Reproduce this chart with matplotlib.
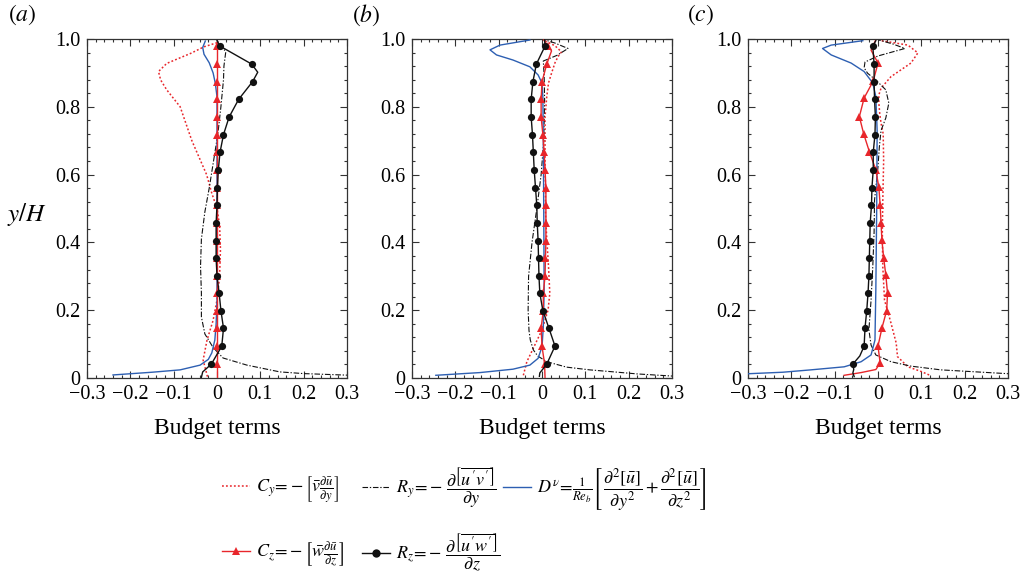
import matplotlib
matplotlib.use("Agg")
import matplotlib.pyplot as plt
from matplotlib.lines import Line2D
import numpy as np

plt.rcParams['font.family'] = ['Liberation Serif', 'DejaVu Serif']
plt.rcParams['mathtext.fontset'] = 'stix'
plt.rcParams['axes.unicode_minus'] = True

# ---------------- data ----------------
x_ticks = [-0.3, -0.2, -0.1, 0.0, 0.1, 0.2, 0.3]
x_tick_labels = ['\u22120.3', '\u22120.2', '\u22120.1', '0', '0.1', '0.2', '0.3']
y_ticks = [0.0, 0.2, 0.4, 0.6, 0.8, 1.0]
y_tick_labels = ['0', '0.2', '0.4', '0.6', '0.8', '1.0']
panel_labels = ['(a)', '(b)', '(c)']
x_label = 'Budget terms'
y_label = 'y/H'

# panel (a)
a_cy_y = [0.004, 0.053, 0.112, 0.17, 0.23, 0.30, 0.38, 0.45, 0.50, 0.545, 0.60, 0.70, 0.80, 0.85, 0.879, 0.904, 0.928, 0.958, 0.977, 0.989]
a_cy_x = [-0.022, -0.032, -0.023, -0.009, 0.0, 0.006, 0.008, 0.006, 0.0, -0.012, -0.024, -0.058, -0.085, -0.116, -0.13, -0.135, -0.116, -0.06, -0.03, 0.0]
a_ry_y = [0.008, 0.013, 0.018, 0.038, 0.059, 0.09, 0.13, 0.18, 0.25, 0.33, 0.41, 0.49, 0.56, 0.64, 0.72, 0.80, 0.88, 0.92, 0.96, 0.978, 0.992]
a_ry_x = [0.31, 0.2, 0.145, 0.069, 0.014, -0.009, -0.028, -0.036, -0.036, -0.038, -0.036, -0.028, -0.018, -0.008, 0.002, 0.009, 0.015, 0.016, 0.02, 0.013, 0.003]
a_dv_y = [0.009, 0.017, 0.024, 0.038, 0.055, 0.074, 0.112, 0.16, 0.23, 0.40, 0.60, 0.83, 0.87, 0.90, 0.93, 0.955, 0.975, 0.994]
a_dv_x = [-0.24, -0.15, -0.085, -0.039, -0.02, -0.012, -0.005, -0.002, 0.0, 0.0, 0.0, 0.0, -0.004, -0.009, -0.018, -0.03, -0.033, -0.027]
a_cz_y = [0.0, 0.041, 0.094, 0.147, 0.199, 0.25, 0.30, 0.353, 0.405, 0.458, 0.509, 0.561, 0.614, 0.666, 0.718, 0.77, 0.822, 0.874, 0.926, 0.979, 0.995]
a_cz_x = [0.0, 0.0, 0.0, 0.0, 0.0, 0.0, 0.0, 0.0, 0.0, 0.0, 0.0, 0.0, 0.0, 0.0, 0.0, 0.0, 0.0, 0.0, 0.0, 0.0, 0.0]
a_cz_marks = list(range(1, 20))
a_rz_y = [0.002, 0.018, 0.041, 0.094, 0.147, 0.199, 0.25, 0.30, 0.353, 0.405, 0.458, 0.509, 0.561, 0.614, 0.666, 0.718, 0.77, 0.822, 0.874, 0.902, 0.926, 0.979, 0.995]
a_rz_x = [-0.036, -0.033, -0.013, 0.011, 0.015, 0.009, 0.005, 0.0, -0.002, -0.002, -0.002, 0.0, 0.001, 0.003, 0.007, 0.015, 0.028, 0.05, 0.082, 0.094, 0.08, 0.007, 0.0]
a_rz_marks = list(range(2, 19)) + [20, 21]

# panel (b)
b_cy_y = [0.008, 0.048, 0.088, 0.142, 0.2, 0.25, 0.33, 0.41, 0.49, 0.56, 0.64, 0.72, 0.77, 0.83, 0.87, 0.899, 0.93, 0.948, 0.962, 0.98, 0.996]
b_cy_x = [-0.043, -0.035, -0.02, 0.0, 0.014, 0.018, 0.015, 0.011, 0.008, 0.008, 0.007, 0.007, 0.007, 0.011, 0.015, 0.022, 0.03, 0.037, 0.045, 0.03, 0.005]
b_ry_y = [0.005, 0.012, 0.019, 0.024, 0.032, 0.048, 0.065, 0.083, 0.112, 0.14, 0.20, 0.30, 0.40, 0.50, 0.60, 0.70, 0.82, 0.89, 0.935, 0.952, 0.972, 0.988, 0.998]
b_ry_x = [0.31, 0.22, 0.157, 0.11, 0.057, 0.011, -0.01, -0.02, -0.027, -0.03, -0.032, -0.031, -0.023, -0.012, -0.002, 0.004, 0.006, 0.005, 0.003, 0.035, 0.06, 0.03, 0.005]
b_dv_y = [0.008, 0.016, 0.026, 0.038, 0.058, 0.092, 0.15, 0.26, 0.5, 0.7, 0.83, 0.87, 0.894, 0.918, 0.938, 0.953, 0.968, 0.982, 0.997]
b_dv_x = [-0.245, -0.143, -0.067, -0.028, -0.009, 0.0, 0.003, 0.005, 0.004, 0.003, 0.002, 0.0, -0.009, -0.028, -0.067, -0.105, -0.12, -0.097, -0.028]
b_cz_y = [0.0, 0.041, 0.094, 0.147, 0.199, 0.25, 0.30, 0.353, 0.405, 0.458, 0.509, 0.561, 0.614, 0.666, 0.718, 0.77, 0.822, 0.874, 0.926, 0.965, 0.979, 0.997]
b_cz_x = [0.007, 0.006, 0.0, -0.002, 0.003, 0.003, 0.007, 0.008, 0.009, 0.009, 0.009, 0.009, 0.007, 0.005, 0.002, -0.002, -0.002, 0.0, 0.011, 0.022, 0.014, 0.004]
b_cz_marks = list(range(1, 19)) + [20]
b_rz_y = [0.005, 0.015, 0.041, 0.094, 0.147, 0.199, 0.25, 0.30, 0.353, 0.405, 0.458, 0.509, 0.561, 0.614, 0.666, 0.718, 0.77, 0.822, 0.874, 0.926, 0.979, 0.997]
b_rz_x = [-0.006, -0.005, 0.011, 0.03, 0.016, 0.002, -0.005, -0.007, -0.008, -0.009, -0.011, -0.012, -0.015, -0.018, -0.02, -0.022, -0.025, -0.025, -0.021, -0.013, 0.007, 0.006]
b_rz_marks = list(range(2, 21))

# panel (c)
c_cy_y = [0.009, 0.019, 0.033, 0.063, 0.103, 0.162, 0.23, 0.33, 0.43, 0.52, 0.64, 0.72, 0.752, 0.78, 0.811, 0.835, 0.855, 0.889, 0.929, 0.959, 0.982, 0.996]
c_cy_x = [0.118, 0.1, 0.069, 0.045, 0.042, 0.03, 0.015, 0.011, 0.01, 0.011, 0.013, 0.012, 0.007, 0.004, 0.002, 0.002, 0.007, 0.03, 0.076, 0.092, 0.069, 0.004]
c_ry_y = [0.012, 0.024, 0.035, 0.048, 0.068, 0.097, 0.142, 0.23, 0.33, 0.43, 0.525, 0.623, 0.68, 0.73, 0.767, 0.811, 0.85, 0.879, 0.899, 0.915, 0.932, 0.95, 0.972, 0.985, 0.997]
c_ry_x = [0.31, 0.145, 0.076, 0.03, -0.005, -0.016, -0.021, -0.016, -0.012, -0.009, -0.008, 0.0, 0.003, 0.007, 0.018, 0.025, 0.018, -0.005, -0.024, -0.032, -0.03, 0.0, 0.062, 0.035, 0.002]
c_dv_y = [0.012, 0.017, 0.024, 0.033, 0.048, 0.068, 0.112, 0.26, 0.5, 0.73, 0.83, 0.87, 0.904, 0.929, 0.953, 0.972, 0.982, 0.995]
c_dv_x = [-0.31, -0.22, -0.155, -0.078, -0.039, -0.016, -0.007, -0.005, -0.003, -0.002, -0.005, -0.012, -0.032, -0.062, -0.108, -0.128, -0.108, -0.035]
c_cz_y = [0.008, 0.016, 0.025, 0.044, 0.094, 0.147, 0.199, 0.25, 0.304, 0.355, 0.407, 0.458, 0.51, 0.562, 0.614, 0.668, 0.72, 0.771, 0.826, 0.876, 0.929, 0.967, 0.995]
c_cz_x = [-0.078, -0.039, -0.005, 0.005, 0.0, 0.009, 0.02, 0.022, 0.018, 0.013, 0.009, 0.007, 0.005, 0.002, -0.005, -0.02, -0.033, -0.043, -0.032, -0.011, 0.0, -0.016, -0.006]
c_cz_marks = list(range(3, 21))
c_rz_y = [0.004, 0.015, 0.025, 0.041, 0.065, 0.094, 0.147, 0.199, 0.25, 0.30, 0.353, 0.405, 0.458, 0.509, 0.561, 0.614, 0.666, 0.718, 0.77, 0.822, 0.874, 0.926, 0.979, 0.995]
c_rz_x = [-0.055, -0.058, -0.056, -0.058, -0.042, -0.032, -0.03, -0.026, -0.023, -0.021, -0.02, -0.019, -0.018, -0.015, -0.014, -0.011, -0.011, -0.007, -0.006, -0.008, -0.009, -0.009, -0.012, -0.005]
c_rz_marks = [3] + list(range(5, 23))

legend_labels = [
    r"$C_y\!=\!-\left[\bar{v}\frac{\partial \bar{u}}{\partial y}\right]$",
    r"$R_y\!=\!-\,\dfrac{\partial\left[\overline{u'v'}\right]}{\partial y}$",
    r"$D^{\nu}\!=\!\frac{1}{Re_b}\left[\,\dfrac{\partial^2[\bar{u}]}{\partial y^2} + \dfrac{\partial^2[\bar{u}]}{\partial z^2}\right]$",
    r"$C_z\!=\!-\left[\bar{w}\frac{\partial \bar{u}}{\partial z}\right]$",
    r"$R_z\!=\!-\,\dfrac{\partial\left[\overline{u'w'}\right]}{\partial z}$",
]

RED = '#e8262b'
BLUE = '#2d5fb2'
BLACK = '#111111'

panels = [
    (a_cy_x, a_cy_y, a_ry_x, a_ry_y, a_dv_x, a_dv_y, a_cz_x, a_cz_y, a_cz_marks, a_rz_x, a_rz_y, a_rz_marks),
    (b_cy_x, b_cy_y, b_ry_x, b_ry_y, b_dv_x, b_dv_y, b_cz_x, b_cz_y, b_cz_marks, b_rz_x, b_rz_y, b_rz_marks),
    (c_cy_x, c_cy_y, c_ry_x, c_ry_y, c_dv_x, c_dv_y, c_cz_x, c_cz_y, c_cz_marks, c_rz_x, c_rz_y, c_rz_marks),
]

W, H = 1026, 577
fig = plt.figure(figsize=(W / 100, H / 100), dpi=100)
lefts = [87, 412, 748]
ax_w, ax_top, ax_bot = 260, 39, 378

dashdot = (0, (5, 1.6, 1.2, 1.6))
for i, (left, pdata) in enumerate(zip(lefts, panels)):
    (cyx, cyy, ryx, ryy, dvx, dvy, czx, czy, czm, rzx, rzy, rzm) = pdata
    ax = fig.add_axes([left / W, 1 - ax_bot / H, ax_w / W, (ax_bot - ax_top) / H])
    ax.plot(cyx, cyy, color=RED, lw=1.1, linestyle=(0, (1.2, 1.4)), zorder=2)
    ax.plot(ryx, ryy, color=BLACK, lw=0.8, linestyle=dashdot, zorder=2)
    ax.plot(dvx, dvy, color=BLUE, lw=1.0, zorder=3)
    ax.plot(czx, czy, color=RED, lw=1.0, marker='^', markersize=5.5, markevery=czm,
            markeredgewidth=0, zorder=4)
    ax.plot(rzx, rzy, color=BLACK, lw=1.0, marker='o', markersize=5.2, markevery=rzm,
            markeredgewidth=0, zorder=5)
    ax.set_xlim(-0.3, 0.3)
    ax.set_ylim(0, 1.0)
    ax.set_xticks(x_ticks)
    ax.set_xticklabels(x_tick_labels)
    ax.set_yticks(y_ticks)
    ax.set_yticklabels(y_tick_labels)
    ax.set_xticks(np.arange(-0.3, 0.3001, 0.02), minor=True)
    ax.set_yticks(np.arange(0, 1.0001, 0.04), minor=True)
    ax.tick_params(which='both', direction='in', top=True, right=True, labelsize=14.5,
                   color='#333333', width=0.8)
    ax.tick_params(which='major', length=5, pad=5)
    ax.tick_params(which='minor', length=2.5)
    for sp in ax.spines.values():
        sp.set_linewidth(0.9)
        sp.set_color('#333333')
    ax.set_xlabel(x_label, fontsize=17, labelpad=10)

for lab, px in zip(panel_labels, [8, 352, 687]):
    fig.text(px / W, 1 - 15 / H, r'$(' + lab[1] + ')$', fontsize=17, va='center', ha='left')
fig.text(27 / W, 1 - 215 / H, r'$y/H$', fontsize=18, va='center', ha='center')

# legend entries
handles = [
    Line2D([], [], color=RED, lw=1.1, linestyle=(0, (1.2, 1.4))),
    Line2D([], [], color=BLACK, lw=0.8, linestyle=dashdot),
    Line2D([], [], color=BLUE, lw=1.0),
    Line2D([], [], color=RED, lw=1.0, marker='^', markersize=6, markeredgewidth=0),
    Line2D([], [], color=BLACK, lw=1.0, marker='o', markersize=6, markeredgewidth=0),
]
positions = [(222, 490), (362, 488), (503, 490), (222, 555), (362, 553)]
for h, lab, (px, py) in zip(handles, legend_labels, positions):
    fig.legend(handles=[h], labels=[lab], loc='center left',
               bbox_to_anchor=(px / W, 1 - py / H), frameon=False, fontsize=13,
               borderpad=0, borderaxespad=0, handlelength=1.55, handletextpad=0.35,
               numpoints=1)

fig.savefig('out.png', dpi=100)
